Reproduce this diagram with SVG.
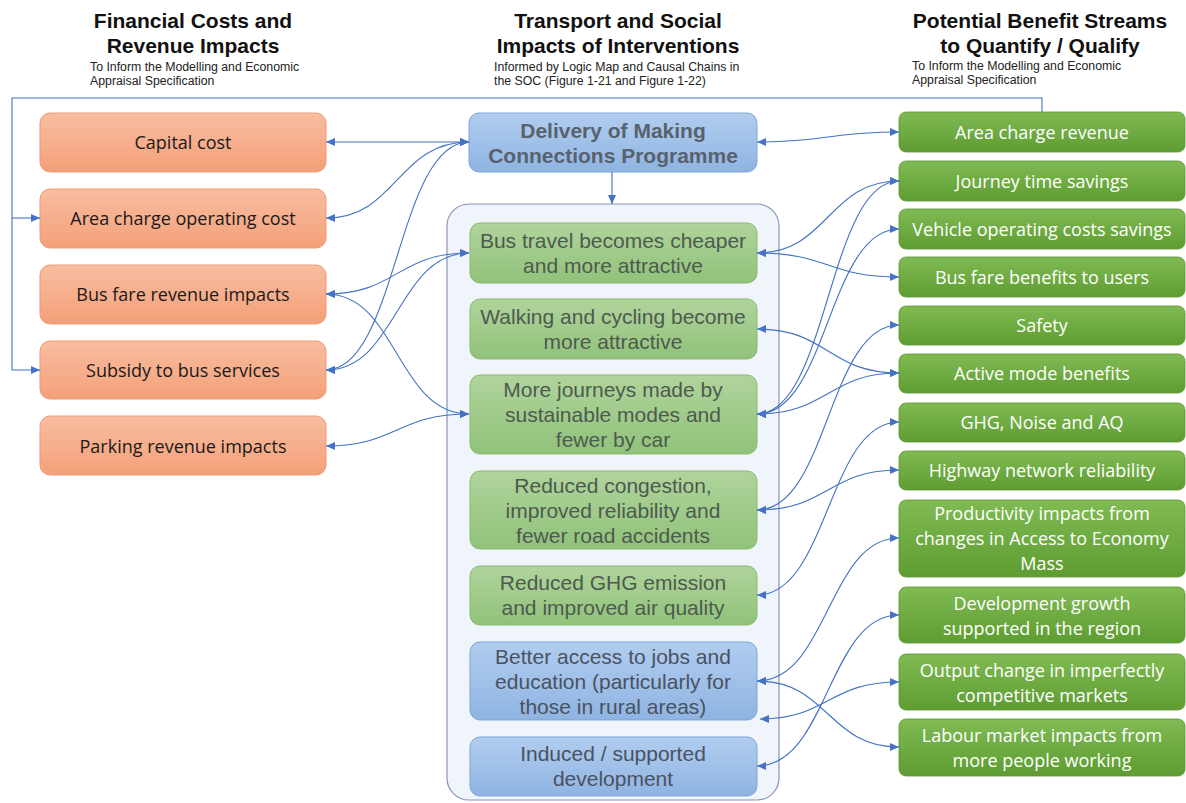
<svg xmlns="http://www.w3.org/2000/svg" width="1186" height="803" viewBox="0 0 1186 803">
  <defs>
    <linearGradient id="gOrange" x1="0" y1="0" x2="0" y2="1">
      <stop offset="0" stop-color="#f8bda1"/>
      <stop offset="1" stop-color="#f4a078"/>
    </linearGradient>
    <linearGradient id="gGreenSoft" x1="0" y1="0" x2="0" y2="1">
      <stop offset="0" stop-color="#b0d49c"/>
      <stop offset="1" stop-color="#91c27a"/>
    </linearGradient>
    <linearGradient id="gBlueSoft" x1="0" y1="0" x2="0" y2="1">
      <stop offset="0" stop-color="#b1cdef"/>
      <stop offset="1" stop-color="#8fb4e2"/>
    </linearGradient>
    <linearGradient id="gGreen" x1="0" y1="0" x2="0" y2="1">
      <stop offset="0" stop-color="#80ba53"/>
      <stop offset="1" stop-color="#5e9d32"/>
    </linearGradient>
    <marker id="arrow" viewBox="0 0 9 8" refX="9" refY="4" markerWidth="9" markerHeight="8" markerUnits="userSpaceOnUse" orient="auto-start-reverse">
      <path d="M0,0 L9,4 L0,8 z" fill="#4472c4"/>
    </marker>
    <style>
      .hdr { font-family: "Liberation Sans", Arial, sans-serif; font-weight: bold; font-size: 21px; fill: #111; text-anchor: middle; }
      .sub { font-family: "Liberation Sans", Arial, sans-serif; font-size: 12.3px; fill: #222; }
      .cost rect { fill: url(#gOrange); stroke: #eb9c78; stroke-width: 1; }
      .cost text { font-family: "Open Sans", "Noto Sans", sans-serif; font-size: 18px; fill: #1a1a1a; text-anchor: middle; }
      .impact rect { fill: url(#gGreenSoft); stroke: #89b96f; stroke-width: 1; }
      .impact.blue rect { fill: url(#gBlueSoft); stroke: #7ea5d6; }
      .impact text { font-family: "Liberation Sans", Arial, sans-serif; font-size: 21px; fill: #4d5a50; text-anchor: middle; }
      .impact.blue text { fill: #4a5262; }
      .benefit rect { fill: url(#gGreen); stroke: #5a9530; stroke-width: 0.8; }
      .benefit text { font-family: "Open Sans", "Noto Sans", sans-serif; font-size: 18px; fill: #ffffff; text-anchor: middle; }
      .link { fill: none; stroke: #4472c4; stroke-width: 1.1; marker-start: url(#arrow); marker-end: url(#arrow); }
      .frame { fill: none; stroke: #4472c4; stroke-width: 1.1; }
    </style>
  </defs>

  <!-- column headings -->
  <g id="heading-costs">
    <text class="hdr" x="193" y="28">Financial Costs and</text>
    <text class="hdr" x="193" y="53">Revenue Impacts</text>
    <text class="sub" x="90" y="71">To Inform the Modelling and Economic</text>
    <text class="sub" x="90" y="85">Appraisal Specification</text>
  </g>
  <g id="heading-impacts">
    <text class="hdr" x="618" y="28">Transport and Social</text>
    <text class="hdr" x="618" y="53">Impacts of Interventions</text>
    <text class="sub" x="494" y="71">Informed by Logic Map and Causal Chains in</text>
    <text class="sub" x="494" y="85">the SOC (Figure 1-21 and Figure 1-22)</text>
  </g>
  <g id="heading-benefits">
    <text class="hdr" x="1040" y="28">Potential Benefit Streams</text>
    <text class="hdr" x="1040" y="53">to Quantify / Qualify</text>
    <text class="sub" x="912" y="70">To Inform the Modelling and Economic</text>
    <text class="sub" x="912" y="84">Appraisal Specification</text>
  </g>

  <!-- container around the intervention impacts -->
  <g id="impacts-container">
    <rect x="447" y="204" width="332" height="596" rx="22" fill="#f0f4fb" stroke="#8796b8" stroke-width="1.2"/>
  </g>

  <!-- programme delivery -->
  <g id="delivery">
    <rect x="469" y="113" width="288" height="59" rx="10" fill="url(#gBlueSoft)" stroke="#7ea5d6"/>
    <text x="613" y="138" font-family="Liberation Sans, Arial, sans-serif" font-weight="bold" font-size="21" fill="#58626e" text-anchor="middle">Delivery of Making</text>
    <text x="613" y="163" font-family="Liberation Sans, Arial, sans-serif" font-weight="bold" font-size="21" fill="#58626e" text-anchor="middle">Connections Programme</text>
  </g>

  <!-- financial costs and revenues -->
  <g id="capital-cost" class="cost">
    <rect x="40" y="113" width="286" height="59" rx="10"/>
    <text x="183" y="149">Capital cost</text>
  </g>
  <g id="area-charge-operating-cost" class="cost">
    <rect x="40" y="189" width="286" height="59" rx="10"/>
    <text x="183" y="225">Area charge operating cost</text>
  </g>
  <g id="bus-fare-revenue" class="cost">
    <rect x="40" y="265" width="286" height="59" rx="10"/>
    <text x="183" y="301">Bus fare revenue impacts</text>
  </g>
  <g id="bus-subsidy" class="cost">
    <rect x="40" y="341" width="286" height="58" rx="10"/>
    <text x="183" y="377">Subsidy to bus services</text>
  </g>
  <g id="parking-revenue" class="cost">
    <rect x="40" y="416" width="286" height="59" rx="10"/>
    <text x="183" y="453">Parking revenue impacts</text>
  </g>

  <!-- transport and social impacts -->
  <g id="bus-travel" class="impact">
    <rect x="470" y="223" width="287" height="60" rx="10"/>
    <text x="613" y="248">Bus travel becomes cheaper</text>
    <text x="613" y="273">and more attractive</text>
  </g>
  <g id="walking-cycling" class="impact">
    <rect x="470" y="299" width="287" height="60" rx="10"/>
    <text x="613" y="324">Walking and cycling become</text>
    <text x="613" y="349">more attractive</text>
  </g>
  <g id="sustainable-journeys" class="impact">
    <rect x="470" y="375" width="287" height="79" rx="10"/>
    <text x="613" y="397">More journeys made by</text>
    <text x="613" y="422">sustainable modes and</text>
    <text x="613" y="447">fewer by car</text>
  </g>
  <g id="reduced-congestion" class="impact">
    <rect x="470" y="471" width="287" height="78" rx="10"/>
    <text x="613" y="493">Reduced congestion,</text>
    <text x="613" y="518">improved reliability and</text>
    <text x="613" y="543">fewer road accidents</text>
  </g>
  <g id="reduced-emissions" class="impact">
    <rect x="470" y="566" width="287" height="59" rx="10"/>
    <text x="613" y="590">Reduced GHG emission</text>
    <text x="613" y="615">and improved air quality</text>
  </g>
  <g id="better-access" class="impact blue">
    <rect x="470" y="642" width="287" height="78" rx="10"/>
    <text x="613" y="664">Better access to jobs and</text>
    <text x="613" y="689">education (particularly for</text>
    <text x="613" y="714">those in rural areas)</text>
  </g>
  <g id="induced-development" class="impact blue">
    <rect x="470" y="737" width="287" height="59" rx="10"/>
    <text x="613" y="761">Induced / supported</text>
    <text x="613" y="786">development</text>
  </g>

  <!-- benefit streams -->
  <g id="area-charge-revenue" class="benefit">
    <rect x="899" y="112" width="286" height="40" rx="7"/>
    <text x="1042" y="139">Area charge revenue</text>
  </g>
  <g id="journey-time" class="benefit">
    <rect x="899" y="161" width="286" height="40" rx="7"/>
    <text x="1042" y="188">Journey time savings</text>
  </g>
  <g id="vehicle-operating" class="benefit">
    <rect x="899" y="209" width="286" height="40" rx="7"/>
    <text x="1042" y="236">Vehicle operating costs savings</text>
  </g>
  <g id="bus-fare-benefits" class="benefit">
    <rect x="899" y="257" width="286" height="40" rx="7"/>
    <text x="1042" y="284">Bus fare benefits to users</text>
  </g>
  <g id="safety" class="benefit">
    <rect x="899" y="306" width="286" height="39" rx="7"/>
    <text x="1042" y="332">Safety</text>
  </g>
  <g id="active-mode" class="benefit">
    <rect x="899" y="354" width="286" height="39" rx="7"/>
    <text x="1042" y="380">Active mode benefits</text>
  </g>
  <g id="ghg-noise-aq" class="benefit">
    <rect x="899" y="403" width="286" height="39" rx="7"/>
    <text x="1042" y="429">GHG, Noise and AQ</text>
  </g>
  <g id="highway-reliability" class="benefit">
    <rect x="899" y="451" width="286" height="39" rx="7"/>
    <text x="1042" y="477">Highway network reliability</text>
  </g>
  <g id="productivity" class="benefit">
    <rect x="899" y="500" width="286" height="77" rx="7"/>
    <text x="1042" y="520">Productivity impacts from</text>
    <text x="1042" y="545">changes in Access to Economy</text>
    <text x="1042" y="570">Mass</text>
  </g>
  <g id="development-growth" class="benefit">
    <rect x="899" y="587" width="286" height="56" rx="7"/>
    <text x="1042" y="610">Development growth</text>
    <text x="1042" y="635">supported in the region</text>
  </g>
  <g id="output-change" class="benefit">
    <rect x="899" y="654" width="286" height="56" rx="7"/>
    <text x="1042" y="677">Output change in imperfectly</text>
    <text x="1042" y="702">competitive markets</text>
  </g>
  <g id="labour-market" class="benefit">
    <rect x="899" y="719" width="286" height="57" rx="7"/>
    <text x="1042" y="742">Labour market impacts from</text>
    <text x="1042" y="767">more people working</text>
  </g>

  <!-- connectors -->
  <g id="connectors">
    <!-- area charge revenue feeds back to the cost items -->
    <path class="frame" d="M1042,112 V98 H12 V370 H40" marker-end="url(#arrow)"/>
    <path class="frame" d="M12,218 H40" marker-end="url(#arrow)"/>
    <!-- down into the impact chain -->
    <path class="frame" d="M612,172 V204" marker-end="url(#arrow)"/>

    <!-- costs side -->
    <path class="link" d="M326,142 L469,142"/>
    <path class="link" d="M326,218 C397,218 397,142 469,142"/>
    <path class="link" d="M326,370 C397,370 397,142 469,142"/>
    <path class="link" d="M326,294 C397,294 397,253 469,253"/>
    <path class="link" d="M326,370 C397,370 397,253 469,253"/>
    <path class="link" d="M326,294 C397,294 397,414 469,414"/>
    <path class="link" d="M326,446 C397,446 397,414 469,414"/>

    <!-- benefits side -->
    <path class="link" d="M757,142 C828,142 828,132 899,132"/>
    <path class="link" d="M757,253 C828,253 828,181 899,181"/>
    <path class="link" d="M757,253 C828,253 828,277 899,277"/>
    <path class="link" d="M757,329 C828,329 828,373 899,373"/>
    <path class="link" d="M757,414 C828,414 828,181 899,181"/>
    <path class="link" d="M757,414 C828,414 828,229 899,229"/>
    <path class="link" d="M757,414 C828,414 828,373 899,373"/>
    <path class="link" d="M757,510 C828,510 828,325 899,325"/>
    <path class="link" d="M757,510 C828,510 828,470 899,470"/>
    <path class="link" d="M757,595 C828,595 828,422 899,422"/>
    <path class="link" d="M757,681 C828,681 828,538 899,538"/>
    <path class="link" d="M757,681 C828,681 828,747 899,747"/>
    <path class="link" d="M760,719 C828,719 828,682 899,682"/>
    <path class="link" d="M757,766 C828,766 828,615 899,615"/>
  </g>
</svg>
